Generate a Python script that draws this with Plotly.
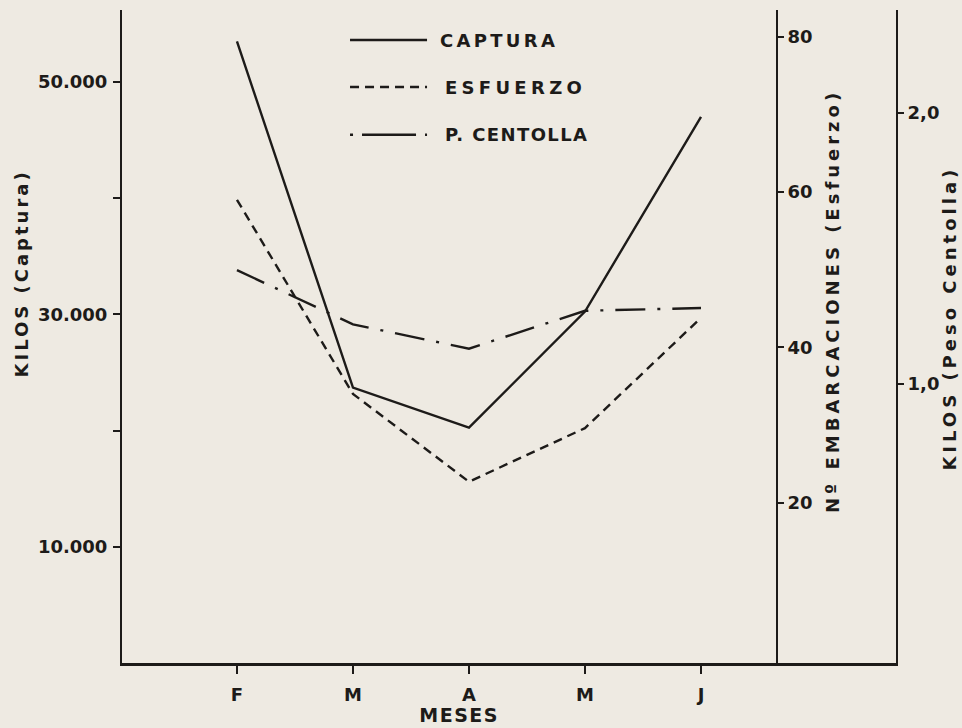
import plotly.graph_objects as go

# ---- data ----
meses = ["F", "M", "A", "M", "J"]
x_pos = [1, 2, 3, 4, 5]
captura = [53500, 23700, 20250, 30250, 47000]      # KILOS (Captura)
esfuerzo = [59.0, 34.0, 22.7, 29.6, 43.8]          # Nº EMBARCACIONES (Esfuerzo)
centolla = [1.42, 1.22, 1.13, 1.27, 1.28]          # KILOS (Peso Centolla)

left_ticks = [10000, 20000, 30000, 40000, 50000]
left_labels = ["10.000", "", "30.000", "", "50.000"]
mid_ticks = [20, 40, 60, 80]
mid_labels = ["20", "40", "60", "80"]
right_ticks = [1.0, 2.0]
right_labels = ["1,0", "2,0"]

series_names = ["CAPTURA", "ESFUERZO", "P. CENTOLLA"]

INK = "#1d1b19"
BG = "#eeeae2"
FONT = "DejaVu Sans"

DASH_E = "9px,6px"
DASH_C = "30px,12px,3px,12px"

fig = go.Figure()
fig.add_trace(go.Scatter(x=x_pos, y=captura, mode="lines", name=series_names[0],
                         line=dict(color=INK, width=2.4), yaxis="y"))
fig.add_trace(go.Scatter(x=x_pos, y=esfuerzo, mode="lines", name=series_names[1],
                         line=dict(color=INK, width=2.4, dash=DASH_E), yaxis="y2"))
fig.add_trace(go.Scatter(x=x_pos, y=centolla, mode="lines", name=series_names[2],
                         line=dict(color=INK, width=2.4, dash=DASH_C), yaxis="y3"))

tickfont = dict(family=FONT, size=18, color=INK, weight="bold")

fig.update_layout(
    width=962, height=728,
    margin=dict(l=122, r=66, t=10, b=65),
    paper_bgcolor=BG, plot_bgcolor=BG,
    font=dict(family=FONT, color=INK),
    showlegend=False,
    xaxis=dict(range=[0.009, 6.681], tickvals=x_pos, ticktext=meses,
               ticks="outside", ticklen=8, tickwidth=2, tickcolor=INK,
               showline=True, linewidth=2.8, linecolor=INK,
               showgrid=False, zeroline=False, tickfont=tickfont,
               ticklabelstandoff=5),
    yaxis=dict(range=[0, 56200], tickvals=left_ticks, ticktext=left_labels,
               ticks="outside", ticklen=7, tickwidth=2, tickcolor=INK,
               showline=True, linewidth=2, linecolor=INK,
               showgrid=False, zeroline=False, tickfont=tickfont,
               ticklabelstandoff=2),
    yaxis2=dict(range=[-0.64, 83.43], tickvals=mid_ticks, ticktext=mid_labels,
                overlaying="y", anchor="free", position=0.846, side="right",
                ticks="outside", ticklen=6, tickwidth=2, tickcolor=INK,
                showline=True, linewidth=2, linecolor=INK,
                showgrid=False, zeroline=False, tickfont=tickfont,
                ticklabelstandoff=0),
    yaxis3=dict(range=[-0.03, 2.38], tickvals=right_ticks, ticktext=right_labels,
                overlaying="y", anchor="x", side="right",
                ticks="outside", ticklen=6, tickwidth=2, tickcolor=INK,
                showline=True, linewidth=2, linecolor=INK,
                showgrid=False, zeroline=False, tickfont=tickfont,
                ticklabelstandoff=0),
)

# axis titles (annotation indices 0..2)
title_font = dict(family=FONT, size=18, color=INK, weight="bold")
for txt, ax_x, ax_y in [("KILOS (Captura)", -0.129, 0.596),
                        ("Nº EMBARCACIONES (Esfuerzo)", 0.917, 0.554),
                        ("KILOS (Peso Centolla)", 1.069, 0.528)]:
    fig.add_annotation(text=txt, xref="paper", yref="paper",
                       x=ax_x, y=ax_y, xanchor="center", yanchor="middle",
                       textangle=-90, showarrow=False, font=title_font)

# hand-drawn style legend (annotation indices 3..5)
leg_rows_y = [0.954, 0.882, 0.809]
leg_text_x = [0.408, 0.415, 0.415]
leg_dashes = ["solid", DASH_E, "3px,9px,54px,9px,3px"]
for name, yy, tx, dsh in zip(series_names, leg_rows_y, leg_text_x, leg_dashes):
    fig.add_shape(type="line", xref="paper", yref="paper",
                  x0=0.2946, x1=0.3941, y0=yy, y1=yy,
                  line=dict(color=INK, width=2.4, dash=dsh))
    fig.add_annotation(text=name, xref="paper", yref="paper", x=tx, y=yy,
                       xanchor="left", yanchor="middle", align="left",
                       showarrow=False,
                       font=dict(family=FONT, size=18, color=INK, weight="bold"))

# x-axis title (annotation index 6)
fig.add_annotation(text="MESES", xref="paper", yref="paper", x=0.4354, y=-0.0796,
                   xanchor="center", yanchor="middle", showarrow=False,
                   font=dict(family=FONT, size=19, color=INK, weight="bold"))

post = """
document.body.style.margin = '0px';
document.body.style.background = '#eeeae2';
var gd = document.getElementById('{plot_id}');
var ls = {0: 3, 1: 4, 2: 4, 3: 3.3, 4: 4.3, 5: 1.4, 6: 1.5};
gd.querySelectorAll('g.annotation').forEach(function (g) {
  var i = g.getAttribute('data-index');
  var t = g.querySelector('text.annotation-text');
  if (t && ls[i] !== undefined) { t.style.letterSpacing = ls[i] + 'px'; }
});
"""

fig.write_html("out.html", post_script=post, config={"displayModeBar": False})
